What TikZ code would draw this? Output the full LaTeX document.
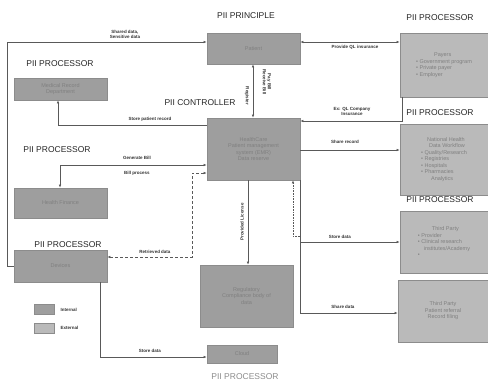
\documentclass[tikz,border=0pt]{standalone}
\usepackage{fontspec}
\setmainfont{Liberation Sans}
\usetikzlibrary{arrows.meta,calc}
\begin{document}
\begin{tikzpicture}[x=1pt,y=-1pt,
 intbox/.style={draw=black!45,fill=black!38,line width=0.7pt,inner sep=1pt,font=\fontsize{5.5}{6.5}\selectfont,text=black!50,align=center},
 extbox/.style={intbox,fill=black!27},
 role/.style={font=\fontsize{8.5}{9}\selectfont,text=black!85,inner sep=0pt},
 conn/.style={draw=black!65,line width=0.6pt,-{Latex[length=3pt,width=2.6pt]}},
 both/.style={conn,{Latex[length=3pt,width=2.6pt]}-{Latex[length=3pt,width=2.6pt]}},
 lbl/.style={font=\fontsize{4.5}{5}\selectfont\bfseries,text=black!80,inner sep=0.5pt,align=center}]
\useasboundingbox (0,0) rectangle (488,383);

% boxes
\node[intbox,minimum width=93pt,minimum height=31pt] (patient) at (253.5,48.5) {Patient};
\node[extbox,minimum width=88pt,minimum height=64pt,align=left] (payers) at (444,65)
  {\hspace*{18pt}Payers\\ \textbullet\ Government program\\ \textbullet\ Private payer\\ \textbullet\ Employer};
\node[intbox,minimum width=93pt,minimum height=22pt] (mrd) at (60.5,89) {Medical Record\\Department};
\node[intbox,minimum width=93pt,minimum height=62pt] (hc) at (253.5,149) {HealthCare\\Patient management\\system (EMR)\\Data reserve};
\node[extbox,minimum width=88pt,minimum height=71pt,align=left] (nhdw) at (444,159.5)
  {\hspace*{6pt}National Health\\ \hspace*{8pt}Data Workflow\\ \textbullet\ Quality/Research\\ \textbullet\ Registries\\ \textbullet\ Hospitals\\ \textbullet\ Pharmacies\\ \hspace*{10pt}Analytics};
\node[intbox,minimum width=93pt,minimum height=30pt] (hf) at (60.5,203) {Health Finance};
\node[extbox,minimum width=88pt,minimum height=62pt,align=left] (tp1) at (444,242)
  {\hspace*{14pt}Third Party\\ \textbullet\ Provider\\ \textbullet\ Clinical research\\ \hspace*{6pt}institutes/Academy\\ \textbullet};
\node[intbox,minimum width=93pt,minimum height=32pt] (dev) at (60.5,266) {Devices};
\node[intbox,minimum width=93pt,minimum height=62pt] (reg) at (246.5,296) {Regulatory\\Compliance body of\\data};
\node[extbox,minimum width=90pt,minimum height=62pt] (tp2) at (443,311) {Third Party\\Patient referral\\Record filing};
\node[intbox,minimum width=70pt,minimum height=18pt] (cloud) at (242,354) {Cloud};

% role labels
\node[role] (r1) at (246,16) {PII PRINCIPLE};
\node[role] (r2) at (440,18) {PII PROCESSOR};
\node[role] (r3) at (60,64) {PII PROCESSOR};
\node[role] (r4) at (200,103) {PII CONTROLLER};
\node[role] (r5) at (440,113) {PII PROCESSOR};
\node[role] (r6) at (57,150) {PII PROCESSOR};
\node[role] (r7) at (440,200) {PII PROCESSOR};
\node[role] (r8) at (68,245) {PII PROCESSOR};
\node[role,text=black!45] (r9) at (245,377) {PII PROCESSOR};

% connectors
\coordinate (c1) at (7,42);
\draw[conn] (dev.west) -| (c1) -- (c1 -| patient.west);
\node[lbl] (l1) at (125,34) {Shared data,\\Sensitive data};

\coordinate (c2) at (350,42);
\draw[both] (c2 -| patient.east) -- (c2 -| payers.west);
\node[lbl] (l2) at (355,47) {Provide QL insurance};

\coordinate (c3) at (253,100);
\draw[both] (c3 |- patient.south) -- (c3 |- hc.north);
\node[lbl,rotate=-90] (l3) at (267,82) {Pay Bill\\Receive Bill};
\node[lbl,rotate=-90] (l3b) at (247,96) {Register};

\coordinate (c4) at (402,121);
\draw[conn] (c4 |- payers.south) -- (c4) -- (c4 -| hc.east);
\node[lbl] (l4) at (352,111) {Ex: QL Company\\Insurance};

\coordinate (c5) at (58,125);
\draw[conn] (c5 -| hc.west) -- (c5) -- (c5 |- mrd.south);
\node[lbl] (l5) at (150,119) {Store patient record};

\coordinate (c6) at (60,165);
\draw[conn] (c6) -- (c6 -| hc.west);
\draw[conn] (c6) -- (c6 |- hf.north);
\node[lbl] (l6) at (137,158) {Generate Bill};
\node[lbl] (l6b) at (137,173) {Bill process};

\coordinate (c7) at (192,173);
\draw[both,densely dashed] (dev.east |- 0,257) -- (c7 |- 0,257) -- (c7) -- (c7 -| hc.west);
\node[lbl] (l7) at (155,252) {Retrieved data};

\coordinate (c8) at (248,220);
\draw[conn] (c8 |- hc.south) -- (c8 |- reg.north);
\node[lbl,rotate=90] (l8) at (242,222) {Provided License};

\coordinate (c9) at (350,150);
\draw[conn] (c9 -| hc.east) -- (c9 -| nhdw.west);
\node[lbl] (l9) at (345,142) {Share record};

\coordinate (c10) at (300,313);
\draw[conn] (c10 |- hc.south) -- (c10) -- (c10 -| tp2.west);
\coordinate (c11) at (300,242);
\draw[conn] (c11) -- (c11 -| tp1.west);
\node[lbl] (l10) at (340,237) {Store data};
\node[lbl] (l11) at (343,307) {Share data};
\coordinate (c12) at (293,236);
\draw[conn,densely dotted] (c11 |- c12) -- (c12) -- (c12 |- hc.south);

\coordinate (c13) at (100,357);
\draw[conn] (c13 |- dev.south) -- (c13) -- (c13 -| cloud.west);
\node[lbl] (l13) at (150,351) {Store data};

% legend
\node[intbox,minimum width=20pt,minimum height=10pt] (legi) at (44,309) {};
\node[lbl,anchor=west] (legit) at (60,310) {Internal};
\node[extbox,minimum width=20pt,minimum height=10pt] (lege) at (44,328) {};
\node[lbl,anchor=west] (leget) at (60,328) {External};
\end{tikzpicture}
\end{document}
